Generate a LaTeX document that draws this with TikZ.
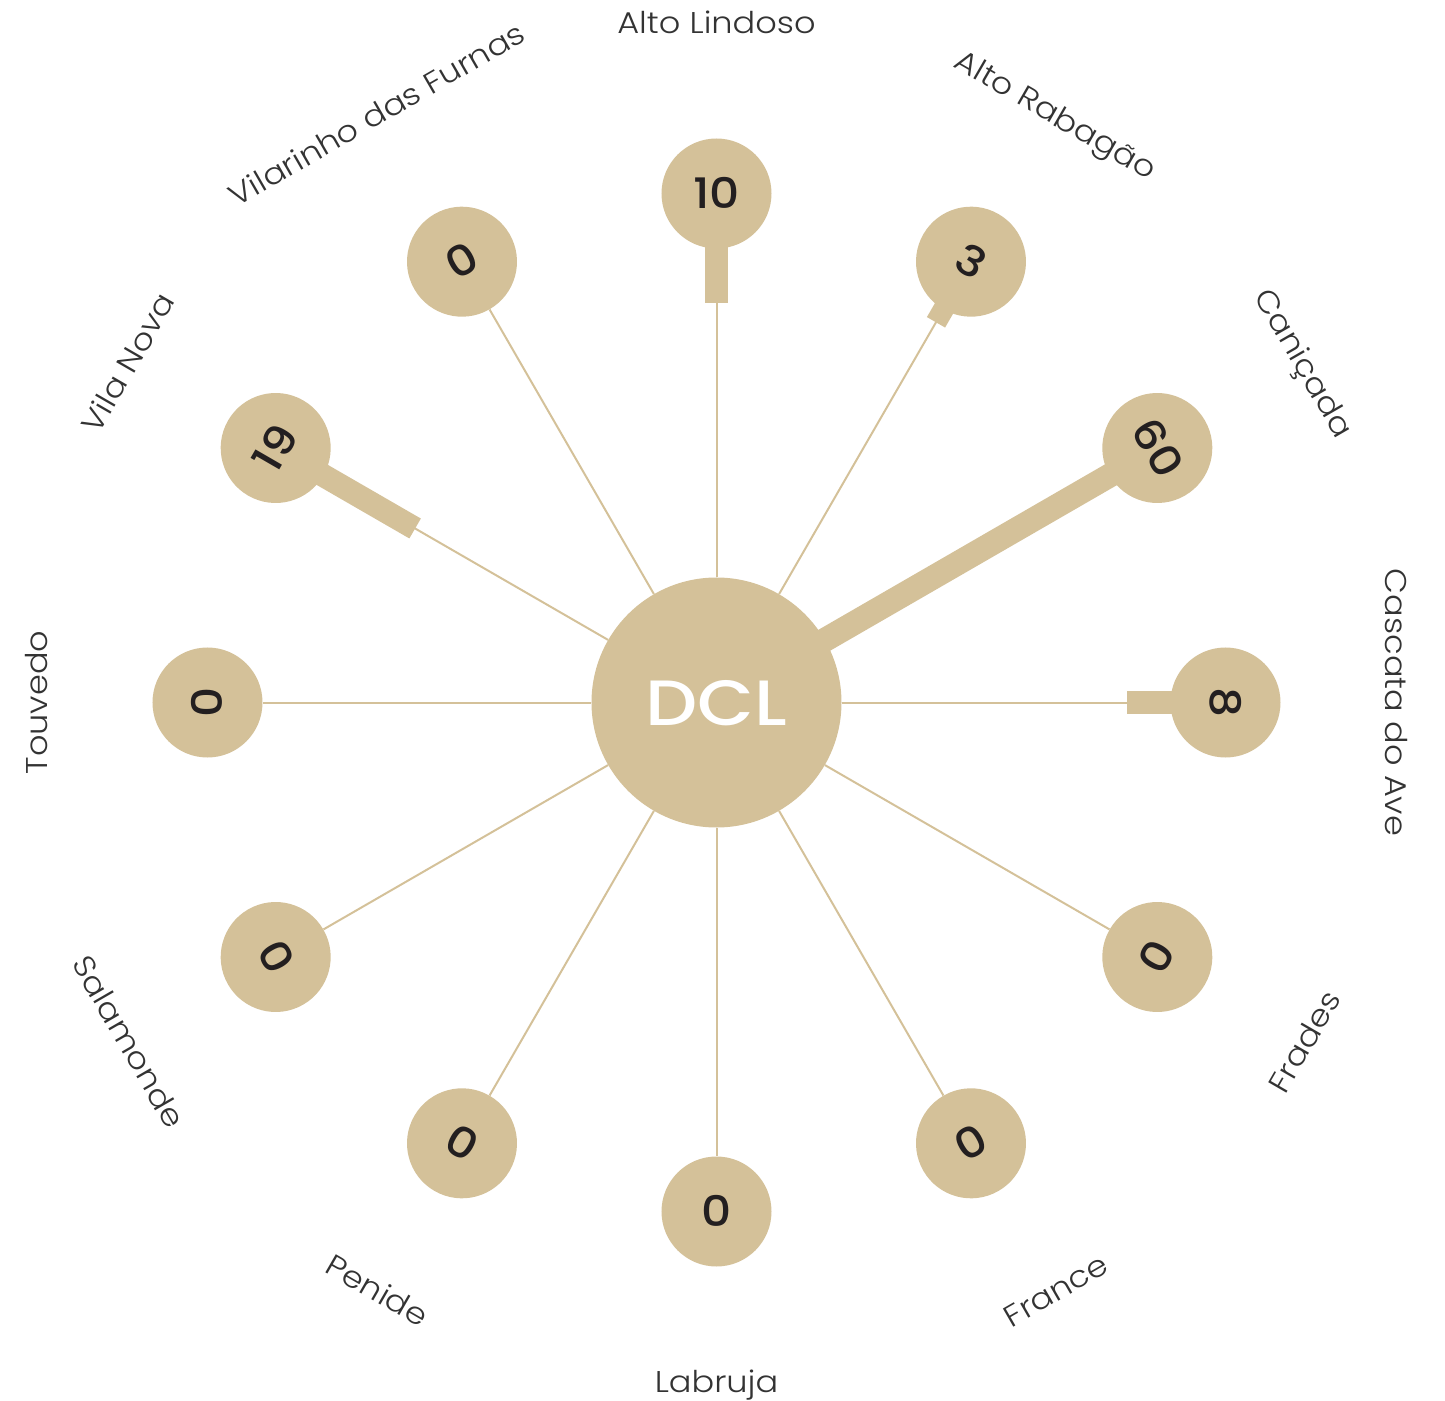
\documentclass[tikz,border=0pt]{standalone}
\usepackage{fontspec}
\setmainfont{Poppins}[UprightFont=* Light, BoldFont=* Medium]
\newfontfamily\lblfont{Poppins}[UprightFont=* Light, FakeStretch=1.12]
\newfontfamily\numfont{Poppins}[UprightFont=* Medium, FakeStretch=1.12]
\newfontfamily\hubfont{Poppins}[UprightFont=* Medium, FakeStretch=1.15]
\definecolor{tan}{HTML}{D4C199}
\definecolor{txt}{HTML}{333333}
\definecolor{num}{HTML}{231F20}
\pgfdeclarelayer{background}
\pgfsetlayers{background,main}
\tikzset{
  x=1pt, y=1pt,
  hub/.style={circle, fill=tan, draw=none, minimum size=250pt, inner sep=0pt,
    text=white, font=\hubfont\fontsize{64}{64}\selectfont, text height=45pt, text depth=0pt},
  outer/.style={circle, fill=tan, draw=none, minimum size=110pt, inner sep=0pt,
    text=num, font=\numfont\fontsize{42}{42}\selectfont, text height=29.5pt, text depth=0pt},
  lbl/.style={inner sep=0pt, text=txt, font=\lblfont\fontsize{30}{30}\selectfont, text height=21pt, text depth=0pt},
  spoke/.style={draw=tan, line width=2pt},
  bar/.style={draw=tan, line width=23pt, line cap=butt},
}
\begin{document}
\begin{tikzpicture}
\useasboundingbox (-716.5,-697.5) rectangle (728.5,702.5);
% hub
\node[hub] (dcl) at (0,0) {DCL};
% outer circles
\node[outer, rotate=0]   (n1)  at (90:509)   {10};
\node[outer, rotate=-30] (n2)  at (60:509)   {3};
\node[outer, rotate=-60] (n3)  at (30:509)   {60};
\node[outer, rotate=-90] (n4)  at (0:509)    {8};
\node[outer, rotate=60]  (n5)  at (-30:509)  {0};
\node[outer, rotate=30]  (n6)  at (-60:509)  {0};
\node[outer, rotate=0]   (n7)  at (-90:509)  {0};
\node[outer, rotate=-30] (n8)  at (-120:509) {0};
\node[outer, rotate=-60] (n9)  at (-150:509) {0};
\node[outer, rotate=90]  (n10) at (180:509)  {0};
\node[outer, rotate=60]  (n11) at (150:509)  {19};
\node[outer, rotate=30]  (n12) at (120:509)  {0};
% labels
\node[lbl, rotate=0]   (l1)  at (90:679)   {Alto Lindoso};
\node[lbl, rotate=-30] (l2)  at (60:679)   {Alto Rabagão};
\node[lbl, rotate=-60] (l3)  at (30:679)   {Caniçada};
\node[lbl, rotate=-90] (l4)  at (0:679)    {Cascata do Ave};
\node[lbl, rotate=60]  (l5)  at (-30:679)  {Frades};
\node[lbl, rotate=30]  (l6)  at (-60:679)  {France};
\node[lbl, rotate=0]   (l7)  at (-90:679)  {Labruja};
\node[lbl, rotate=-30] (l8)  at (-120:679) {Penide};
\node[lbl, rotate=-60] (l9)  at (-150:679) {Salamonde};
\node[lbl, rotate=90]  (l10) at (180:679)  {Touvedo};
\node[lbl, rotate=60]  (l11) at (150:679)  {Vila Nova};
\node[lbl, rotate=30]  (l12) at (120:679)  {Vilarinho das Furnas};
% bar ends
\coordinate (b1)  at (90:399);
\coordinate (b2)  at (60:439);
\coordinate (b3)  at (30:115);
\coordinate (b4)  at (0:410);
\coordinate (b11) at (150:348);
\begin{pgfonlayer}{background}
  \foreach \i in {1,...,12} { \draw[spoke] (dcl) -- (n\i); }
  \draw[bar] (n1.center) -- (b1);
  \draw[bar, line width=21pt] (n2.center) -- (b2);
  \draw[bar, line width=24pt] (n3.center) -- (b3);
  \draw[bar] (n4.center) -- (b4);
  \draw[bar] (n11.center) -- (b11);
\end{pgfonlayer}
\end{tikzpicture}
\end{document}
